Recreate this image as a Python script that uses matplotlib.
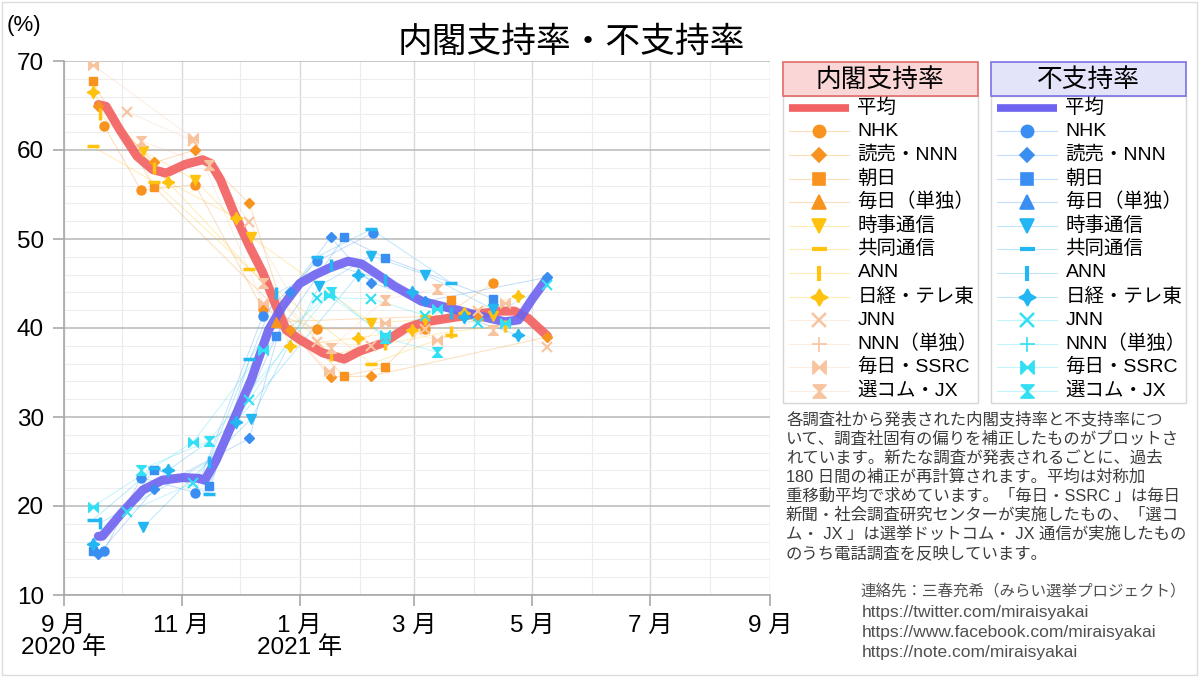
import numpy as np
import pandas as pd
import matplotlib
matplotlib.use('Agg')
import matplotlib.pyplot as plt
import matplotlib.dates as mdates
from matplotlib.patches import Rectangle

plt.rcParams['font.family'] = ['Liberation Sans', 'Noto Sans CJK JP', 'DejaVu Sans']

# ---- data ----
avg_app_dates = ['2020-09-19', '2020-09-23', '2020-09-30', '2020-10-09', '2020-10-17', '2020-10-24',
                 '2020-11-03', '2020-11-12', '2020-11-16', '2020-11-21', '2020-11-28', '2020-12-06',
                 '2020-12-13', '2020-12-20', '2020-12-25', '2021-01-01', '2021-01-13', '2021-01-24',
                 '2021-02-01', '2021-02-13', '2021-02-25', '2021-03-07', '2021-03-19', '2021-04-03',
                 '2021-04-15', '2021-04-22', '2021-04-29', '2021-05-09']
avg_app = [65.1, 64.9, 62.3, 59.3, 57.8, 57.4, 58.4, 58.9, 58.5, 56.7, 53.0, 49.2, 46.2, 42.4,
           39.8, 38.7, 37.2, 36.5, 37.4, 38.3, 40.0, 40.7, 41.1, 41.6, 41.9, 41.9, 41.1, 39.1]

avg_dis_dates = ['2020-09-19', '2020-09-21', '2020-10-01', '2020-10-12', '2020-10-22', '2020-11-02',
                 '2020-11-10', '2020-11-13', '2020-11-19', '2020-11-28', '2020-12-07', '2020-12-16',
                 '2020-12-23', '2021-01-01', '2021-01-09', '2021-01-17', '2021-01-26', '2021-02-02',
                 '2021-02-09', '2021-02-19', '2021-03-05', '2021-03-22', '2021-04-05', '2021-04-17',
                 '2021-04-24', '2021-05-01', '2021-05-09']
avg_dis = [16.6, 16.6, 19.2, 21.8, 22.9, 23.2, 23.1, 22.9, 25.2, 29.7, 34.2, 39.8, 42.4, 45.0,
           46.0, 46.8, 47.5, 47.2, 46.2, 44.7, 43.0, 42.1, 41.3, 40.7, 40.9, 43.2, 45.6]

nan = np.nan

nhk_dates = ['2020-09-22', '2020-10-11', '2020-11-08', '2020-12-13', '2021-01-10', '2021-02-08', '2021-03-07', '2021-04-11']
nhk_app = [62.7, 55.5, 56.1, 42.1, 39.9, nan, 39.9, 45.1]
nhk_dis = [14.9, 23.2, 21.5, 41.4, 47.5, 50.7, nan, nan]

yomiuri_dates = ['2020-09-19', '2020-10-18', '2020-11-08', '2020-12-06', '2020-12-27', '2021-01-17', '2021-02-07', '2021-03-07', '2021-05-09']
yomiuri_app = [64.9, 58.6, 60.0, 54.0, 39.8, 34.5, 34.6, nan, 39.0]
yomiuri_dis = [14.6, 21.9, nan, 27.6, 44.1, 50.2, 45.1, 43.0, 45.7]

asahi_dates = ['2020-09-16', '2020-10-18', '2020-11-15', '2020-12-20', '2021-01-24', '2021-02-14', '2021-03-20', '2021-04-11']
asahi_app = [67.7, 55.8, nan, nan, 34.6, 35.6, 43.2, nan]
asahi_dis = [14.9, 24.1, 22.3, 39.1, 50.2, 47.9, nan, 43.3]

mainichi_dates = ['2020-12-20', '2021-04-03']
mainichi_app = [40.7, 41.5]
mainichi_dis = [nan, nan]

jiji_dates = ['2020-10-12', '2020-11-08', '2020-12-07', '2021-01-11', '2021-02-07', '2021-03-07', '2021-04-11']
jiji_app = [59.9, 56.6, 50.2, nan, 40.6, 40.9, 41.4]
jiji_dis = [17.6, nan, 29.8, 44.7, 48.1, 46.0, 42.1]

kyodo_dates = ['2020-09-16', '2020-10-18', '2020-11-15', '2020-12-06', '2021-01-10', '2021-02-07', '2021-03-20']
kyodo_app = [60.4, 56.4, nan, 46.6, nan, 36.0, 39.2]
kyodo_dis = [18.4, 24.3, 21.4, 36.5, 48.0, 51.1, 45.1]

ann_dates = ['2020-09-20', '2020-10-18', '2020-11-15', '2020-12-20', '2021-01-17', '2021-02-14', '2021-03-20', '2021-04-17']
ann_app = [64.0, 58.0, nan, nan, 37.0, 38.2, 39.6, 40.2]
ann_dis = [18.1, nan, 25.0, 43.9, 47.1, 45.4, 41.7, nan]

nikkei_dates = ['2020-09-16', '2020-10-25', '2020-11-29', '2020-12-27', '2021-01-31', '2021-02-28', '2021-03-27', '2021-04-24']
nikkei_app = [66.5, 56.4, 52.4, 38.0, 38.9, 39.8, 41.7, 43.6]
nikkei_dis = [15.7, 24.0, 29.4, nan, 45.9, 44.1, 41.2, 39.2]

jnn_dates = ['2020-10-04', '2020-11-07', '2020-12-06', '2021-01-10', '2021-02-07', '2021-03-07', '2021-04-03', '2021-05-09']
jnn_app = [64.3, 61.0, 51.9, 38.4, 38.0, 39.9, 41.9, 37.9]
jnn_dis = [19.3, 22.6, 31.9, 43.4, 43.3, 41.4, 40.6, 44.8]

nnn_dates = []
nnn_app = []
nnn_dis = []

ssrc_dates = ['2020-09-16', '2020-11-07', '2020-12-13', '2021-01-16', '2021-02-14', '2021-03-13', '2021-04-17']
ssrc_app = [69.6, 61.3, 42.8, 35.2, 40.6, 38.6, 42.8]
ssrc_dis = [19.9, 27.2, 37.5, 43.7, 39.2, 42.1, 40.6]

senkom_dates = ['2020-10-11', '2020-11-15', '2020-12-13', '2021-01-17', '2021-02-14', '2021-03-13', '2021-04-11']
senkom_app = [61.0, 58.3, 45.1, 37.7, 43.2, 44.4, 39.8]
senkom_dis = [24.1, 27.3, nan, 44.0, 38.9, 37.3, nan]

legend_labels = ['平均', 'NHK', '読売・NNN', '朝日', '毎日（単独）', '時事通信', '共同通信',
                 'ANN', '日経・テレ東', 'JNN', 'NNN（単独）', '毎日・SSRC', '選コム・JX']

x_tick_dates = ['2020-09-01', '2020-11-01', '2021-01-01', '2021-03-01', '2021-05-01', '2021-07-01', '2021-09-01']
x_tick_labels = ['9 月\n2020 年', '11 月', '1 月\n2021 年', '3 月', '5 月', '7 月', '9 月']

note_lines = ['各調査社から発表された内閣支持率と不支持率につ',
              'いて、調査社固有の偏りを補正したものがプロットさ',
              'れています。新たな調査が発表されるごとに、過去',
              '180 日間の補正が再計算されます。平均は対称加',
              '重移動平均で求めています。「毎日・SSRC 」は毎日',
              '新聞・社会調査研究センターが実施したもの、「選コ',
              'ム・ JX 」は選挙ドットコム・ JX 通信が実施したもの',
              'のうち電話調査を反映しています。']
contact_lines = ['連絡先：三春充希（みらい選挙プロジェクト）',
                 'https://twitter.com/miraisyakai',
                 'https://www.facebook.com/miraisyakai',
                 'https://note.com/miraisyakai']

# ---- styles ----
red_avg = '#f26262'
blue_avg = '#6e63f0'
orange = '#f7931e'
gold = '#ffc20e'
peach = '#f8c4a0'
blue = '#3a8ef2'
cyan_blue = '#22b6f2'
cyan = '#33dff2'

bowtie = [(-1, 1), (1, -1), (1, 1), (-1, -1), (-1, 1)]
hourglass = [(-1, 1), (1, 1), (-1, -1), (1, -1), (-1, 1)]

pollsters = [
    (nhk_dates, nhk_app, nhk_dis, 'o', orange, blue, 6.5, 1),
    (yomiuri_dates, yomiuri_app, yomiuri_dis, 'D', orange, blue, 5.5, 1),
    (asahi_dates, asahi_app, asahi_dis, 's', orange, blue, 6, 1),
    (mainichi_dates, mainichi_app, mainichi_dis, '^', orange, blue, 7, 1),
    (jiji_dates, jiji_app, jiji_dis, 'v', gold, cyan_blue, 7, 1),
    (kyodo_dates, kyodo_app, kyodo_dis, '_', gold, cyan_blue, 8, 2.5),
    (ann_dates, ann_app, ann_dis, '|', gold, cyan_blue, 8, 2.5),
    (nikkei_dates, nikkei_app, nikkei_dis, (4, 1, 0), gold, cyan_blue, 9, 1),
    (jnn_dates, jnn_app, jnn_dis, 'x', peach, cyan, 7, 1.5),
    (nnn_dates, nnn_app, nnn_dis, '+', peach, cyan, 8, 1),
    (ssrc_dates, ssrc_app, ssrc_dis, bowtie, peach, cyan, 7, 1),
    (senkom_dates, senkom_app, senkom_dis, hourglass, peach, cyan, 7, 1),
]

fig = plt.figure(figsize=(12, 6.77), dpi=100)

# overlay in pixel coordinates for legend, notes and frame
lax = fig.add_axes([0, 0, 1, 1])
lax.set_xlim(0, 1200)
lax.set_ylim(677, 0)
lax.axis('off')

ax = fig.add_axes([63.5 / 1200, 1 - 595 / 677, (770 - 63.5) / 1200, (595 - 61) / 677])
ax.set_facecolor('white')

# pollster points and faint connecting lines
for dates, app, dis, mk, c_app, c_dis, ms, mew in pollsters:
    if len(dates) == 0:
        continue
    d = pd.to_datetime(dates)
    for vals, col in ((app, c_app), (dis, c_dis)):
        v = np.array(vals, dtype=float)
        ok = ~np.isnan(v)
        ax.plot(d[ok], v[ok], color=col, lw=0.7, alpha=0.3, zorder=2)
        ax.plot(d[ok], v[ok], ls='none', marker=mk, ms=ms, color=col,
                mec=col, mew=mew, zorder=4)

# weighted averages
ax.plot(pd.to_datetime(avg_app_dates), avg_app, color=red_avg, lw=6.5, alpha=0.92,
        solid_capstyle='round', solid_joinstyle='round', zorder=3)
ax.plot(pd.to_datetime(avg_dis_dates), avg_dis, color=blue_avg, lw=6.5, alpha=0.9,
        solid_capstyle='round', solid_joinstyle='round', zorder=3)

# axes formatting
ax.set_xlim(pd.Timestamp('2020-09-01'), pd.Timestamp('2021-09-01'))
ax.set_ylim(10, 70)
ax.set_xticks(pd.to_datetime(x_tick_dates))
ax.set_xticklabels(x_tick_labels)
ax.xaxis.set_minor_locator(mdates.MonthLocator())
ax.set_yticks(range(10, 71, 10))
ax.set_yticks(range(10, 71, 2), minor=True)
ax.set_axisbelow(True)
ax.grid(which='major', axis='y', color='#b8b8b8', lw=1.1)
ax.grid(which='minor', axis='y', color='#ededed', lw=0.8)
ax.grid(which='major', axis='x', color='#d9d9d9', lw=1.0)
ax.grid(which='minor', axis='x', color='#ececec', lw=0.8)
for s in ['top', 'right']:
    ax.spines[s].set_visible(False)
for s in ['left', 'bottom']:
    ax.spines[s].set_color('#a8a8a8')
    ax.spines[s].set_linewidth(1.2)
ax.tick_params(which='major', length=8, color='#a8a8a8', width=1.2, labelsize=17.5, pad=6)
ax.tick_params(which='minor', length=0)
for lbl in ax.get_xticklabels():
    lbl.set_linespacing(1.0)

fig.text(571 / 1200, 1 - 42 / 677, '内閣支持率・不支持率', ha='center', va='center', fontsize=25)
fig.text(7 / 1200, 1 - 26 / 677, '(%)', ha='left', va='center', fontsize=16)

# legends
boxes = [(782.5, '内閣支持率', '#fbd6d6', '#e26a6a', red_avg,
          [orange, orange, orange, orange, gold, gold, gold, gold, peach, peach, peach, peach]),
         (990.5, '不支持率', '#e3e3fa', '#7a72e6', blue_avg,
          [blue, blue, blue, blue, cyan_blue, cyan_blue, cyan_blue, cyan_blue, cyan, cyan, cyan, cyan])]
for x0, title, fill, edge, avg_col, cols in boxes:
    lax.add_patch(Rectangle((x0, 95.7), 195, 307, fill=False, ec='#d6d6d6', lw=1))
    lax.add_patch(Rectangle((x0, 62.3), 195, 33.4, fc=fill, ec=edge, lw=1.2))
    lax.text(x0 + 97.5, 79.5, title, ha='center', va='center', fontsize=18.5)
    for i, lab in enumerate(legend_labels):
        y = 107.7 + 23.6 * i
        if i == 0:
            lax.plot([x0 + 6, x0 + 66], [y, y], color=avg_col, lw=5.5, solid_capstyle='butt')
        else:
            mk, ms, mew = pollsters[i - 1][3], pollsters[i - 1][6], pollsters[i - 1][7]
            c = cols[i - 1]
            lax.plot([x0 + 6, x0 + 66], [y, y], color=c, lw=0.8, alpha=0.3)
            lax.plot([x0 + 36], [y], ls='none', marker=mk, ms=ms * 1.35, color=c, mec=c, mew=mew * 1.2)
        lax.text(x0 + 75, y, lab, ha='left', va='center', fontsize=14)

# note text
for i, line in enumerate(note_lines):
    lax.text(786, 419.5 + 19.1 * i, line, ha='left', va='center', fontsize=11.8, color='#3c3c3c')
for i, line in enumerate(contact_lines):
    lax.text(860 if i == 0 else 862, 592.5 + 20 * i, line, ha='left', va='center',
             fontsize=11.2 if i == 0 else 12.5, color='#505050')

lax.add_patch(Rectangle((2, 2), 1195, 673, fill=False, ec='#dcdcdc', lw=1))

fig.savefig('out.png', dpi=100)
